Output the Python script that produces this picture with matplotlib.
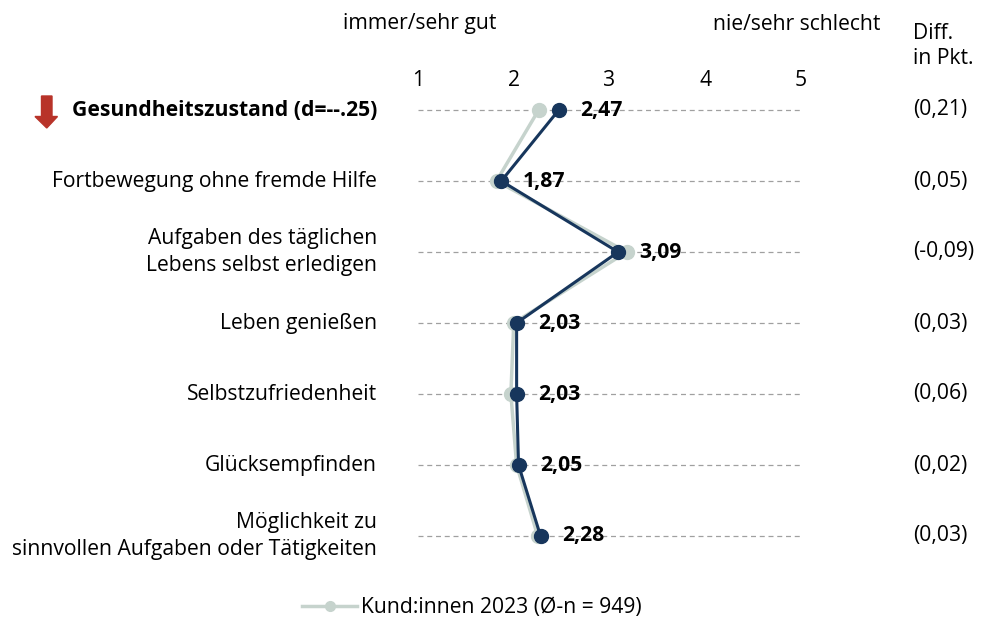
import matplotlib
matplotlib.use("Agg")
from matplotlib import pyplot as plt
from matplotlib.patches import Polygon
from matplotlib.lines import Line2D
from matplotlib.transforms import IdentityTransform

plt.rcParams['font.family'] = ['Open Sans', 'DejaVu Sans']

# data
items = ["Gesundheitszustand (d=--.25)", "Fortbewegung ohne fremde Hilfe",
         "Aufgaben des täglichen\nLebens selbst erledigen", "Leben genießen",
         "Selbstzufriedenheit", "Glücksempfinden",
         "Möglichkeit zu\nsinnvollen Aufgaben oder Tätigkeiten"]
current = [2.47, 1.87, 3.09, 2.03, 2.03, 2.05, 2.28]
prev_2023 = [2.26, 1.82, 3.18, 2.00, 1.97, 2.03, 2.25]
diff_labels = ["(0,21)", "(0,05)", "(-0,09)", "(0,03)", "(0,06)", "(0,02)", "(0,03)"]
scale_ticks = [1, 2, 3, 4, 5]

navy = "#17365c"
grey = "#c6d3cd"
FS = 15.2

W, H = 985, 621
fig = plt.figure(figsize=(W / 100, H / 100), dpi=100)

# rows at y=110 .. 536 px, spacing 71
row0, step = 110, 71
top_px = row0 - step / 2
bot_px = row0 + step * 6.5
ax = fig.add_axes([418 / W, 1 - bot_px / H, 383 / W, (bot_px - top_px) / H])
ax.set_xlim(1, 5)
ax.set_ylim(6.5, -0.5)
for s in ax.spines.values():
    s.set_visible(False)
ax.set_yticks([])
ax.xaxis.tick_top()
ax.set_xticks(scale_ticks)
ax.set_xticklabels([str(t) for t in scale_ticks], fontsize=FS)
ax.tick_params(axis="x", length=0, pad=-12)

ys = list(range(len(items)))
for y in ys:
    ax.axhline(y, color="#a0a0a0", lw=0.9, ls=(0, (4, 3)), zorder=1)

ax.plot(prev_2023, ys, color=grey, lw=2.5, marker="o", ms=10, zorder=2)
ax.plot(current, ys, color=navy, lw=2.2, marker="o", ms=10, zorder=3)

for y, v in zip(ys, current):
    ax.annotate(f"{v:.2f}".replace(".", ","), (v, y), xytext=(15.5, 0),
                textcoords="offset points", va="center", ha="left",
                fontsize=FS, fontweight="bold", color="black", zorder=4)

# row labels
for y, lab in zip(ys, items):
    fy = 1 - (row0 + step * y) / H
    fig.text(377 / W, fy, lab, ha="right", va="center", fontsize=FS,
             fontweight="bold" if y == 0 else "normal", linespacing=1.4)
    fig.text(913 / W, fy, diff_labels[y], ha="left", va="center", fontsize=FS)

# header
fig.text(420 / W, 1 - 24 / H, "immer/sehr gut", ha="center", va="center", fontsize=FS)
fig.text(797 / W, 1 - 24 / H, "nie/sehr schlecht", ha="center", va="center", fontsize=FS)
fig.text(913 / W, 1 - 46 / H, "Diff.\nin Pkt.", ha="left", va="center", fontsize=FS,
         linespacing=1.25)

# red arrow (pixel coordinates, origin at bottom)
pts = [(41.5, 96), (52, 96), (52, 116.5), (57.5, 116.5), (46.75, 128),
       (35, 116.5), (41.5, 116.5)]
arrow = Polygon([(x, H - y) for x, y in pts], closed=True, color="#b83329",
                transform=IdentityTransform())
fig.patches.append(arrow)

# legend
handle = Line2D([], [], color=grey, lw=2.5, marker="o", ms=7)
fig.legend([handle], ["Kund:innen 2023 (Ø-n = 949)"], loc="center",
           bbox_to_anchor=(472 / W, 1 - 608 / H), frameon=False, fontsize=FS,
           handlelength=2.6, handletextpad=0.2)

fig.savefig("out.png", dpi=100)
